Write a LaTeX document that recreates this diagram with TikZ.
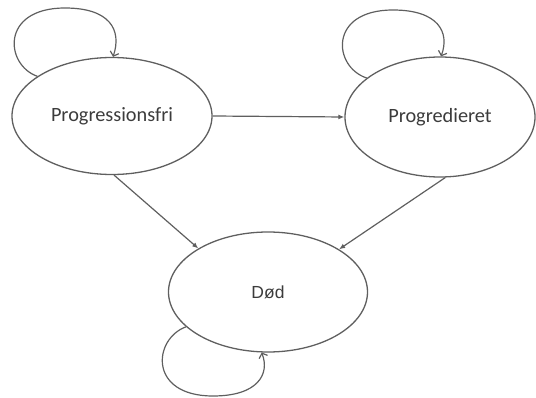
\documentclass[tikz,border=0pt]{standalone}
\usepackage{fontspec}
\setmainfont{Carlito}
\newfontfamily\arialf{Liberation Sans}
\usetikzlibrary{shapes.geometric,arrows.meta}
\definecolor{linegray}{RGB}{95,95,95}
\definecolor{textgray}{RGB}{60,60,60}
\tikzset{
  state/.style={ellipse,draw=linegray,line width=1.3pt,inner sep=0pt,text=textgray},
  trans/.style={draw=linegray,line width=1.2pt,-{Latex[length=6pt,width=5pt]}},
  selfloop/.style={draw=linegray,line width=1.2pt,-{Straight Barb[length=4pt,width=9pt]}}
}
\begin{document}
\begin{tikzpicture}[x=1pt,y=-1pt]
\useasboundingbox (0,0) rectangle (536,398);
\node[state,minimum width=200pt,minimum height=117pt,font=\fontsize{20.3}{24}\selectfont] (pf) at (112,116) {Progressionsfri};
\node[state,minimum width=190pt,minimum height=120pt,font=\fontsize{20.3}{24}\selectfont] (pg) at (440,117) {Progredieret};
\node[state,minimum width=199pt,minimum height=120pt,font=\arialf\fontsize{17.5}{21}\selectfont] (dd) at (268,292) {Død};
% transitions
\draw[trans] (pf.east) -- (pg.west);
\draw[trans] (pf.-88) -- (dd.148);
\draw[trans] (pg.-85) -- (dd.31);
% self loops
\draw[selfloop] (pf.152) .. controls (5,65) and (0,8) .. (65,8) .. controls (110,8) and (122,30) .. (pf.89);
\draw[selfloop] (pg.152) .. controls (333,67) and (328,10) .. (393,10) .. controls (438,10) and (450,32) .. (pg.89);
\draw[selfloop] (dd.203) .. controls (153,339) and (148,396) .. (213,396) .. controls (258,396) and (270,374) .. (dd.264);
\end{tikzpicture}
\end{document}
